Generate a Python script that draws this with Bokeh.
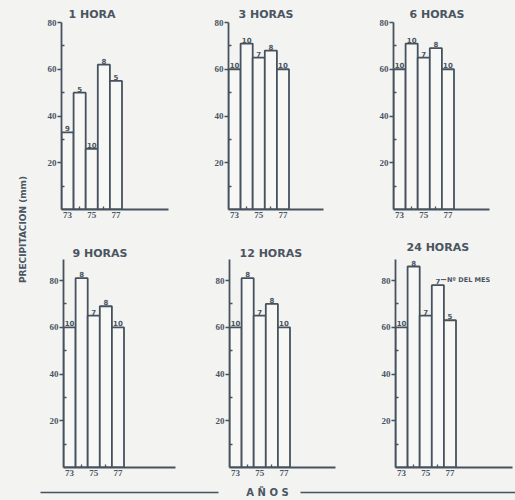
import math
from bokeh.plotting import figure
from bokeh.models import Range1d, FixedTicker, Label, Title
from bokeh.layouts import row, column
from bokeh.core.properties import value
from bokeh.embed import file_html
from bokeh.resources import INLINE

# ---------------- data ----------------
years = [73, 74, 75, 76, 77]
tick_years = [73, 75, 77]
minor_years = [74, 76]
y_ticks = [20, 40, 60, 80]
y_minor = [10, 30, 50, 70]

titles = ["1 HORA", "3 HORAS", "6 HORAS", "9 HORAS", "12 HORAS", "24 HORAS"]

precip_1h = [33, 50, 26, 62, 55]
precip_3h = [60, 71, 65, 68, 60]
precip_6h = [60, 71, 65, 69, 60]
precip_9h = [60, 81, 65, 69, 60]
precip_12h = [60, 81, 65, 70, 60]
precip_24h = [60, 86, 65, 78, 63]

month_1h = ["9", "5", "10", "8", "5"]
month_3h = ["10", "10", "7", "8", "10"]
month_6h = ["10", "10", "7", "8", "10"]
month_9h = ["10", "8", "7", "8", "10"]
month_12h = ["10", "8", "7", "8", "10"]
month_24h = ["10", "8", "7", "7", "5"]

y_label = "PRECIPITACION (mm)"
x_label = "A Ñ O S"
note_text = "Nº DEL MES"

# ---------------- style ----------------
BG = "#f3f3f1"
BAR_FILL = "#f7f7f5"
LINE = "#46525e"
TEXT = "#4a5561"
FONT = "DejaVu Sans"
NARROW = "Liberation Sans Narrow"
PX_PER_YEAR = 12.1

series = [precip_1h, precip_3h, precip_6h, precip_9h, precip_12h, precip_24h]
months = [month_1h, month_3h, month_6h, month_9h, month_12h, month_24h]

# layout geometry: (fig width, border left, border right, border top, y max, title offset, title standoff)
geom = [
    (155, 21, 27, 22, 80, 7, 3),
    (165, 33, 37, 22, 80, 10, 3),
    (155, 33, 26, 22, 80, 16, 3),
    (155, 23, 20, 29, 89, 9, 0),
    (165, 34, 25, 29, 89, 10, 0),
    (155, 35, 3, 29, 89, 11, 12),
]
TOP_H, TOP_BB = 230, 21
BOT_H, BOT_BB = 250, 13
BG_STYLE = {"background-color": BG}


def panel(i):
    w, bl, br, bt, ymax, toff, tstand = geom[i]
    h, bb = (TOP_H, TOP_BB) if i < 3 else (BOT_H, BOT_BB)
    fw = w - bl - br
    p = figure(width=w, height=h, output_backend="svg", toolbar_location=None,
               x_range=Range1d(72.5, 72.5 + fw / PX_PER_YEAR),
               y_range=Range1d(0, ymax),
               min_border_left=bl, min_border_right=br, min_border_top=bt, min_border_bottom=bb,
               styles=BG_STYLE)
    p.background_fill_color = BG
    p.border_fill_color = BG
    p.outline_line_color = None
    p.grid.visible = False

    p.vbar(x=years, top=series[i], width=1, bottom=0, fill_color=BAR_FILL,
           line_color=LINE, line_width=1.8)
    p.text(x=years, y=series[i], text=months[i], text_align="center", text_baseline="bottom",
           y_offset=-1, text_font=value(FONT), text_font_style="bold",
           text_font_size="7px", text_color=TEXT)

    for ax in (p.xaxis[0], p.yaxis[0]):
        ax.axis_line_color = LINE
        ax.axis_line_width = 1.8
        ax.major_tick_line_color = LINE
        ax.minor_tick_line_color = LINE
        ax.major_tick_line_width = 1.3
        ax.minor_tick_line_width = 1.3
        ax.major_label_text_font = NARROW
        ax.major_label_text_font_style = "bold"
        ax.major_label_text_font_size = "9px"
        ax.major_label_text_color = TEXT
    p.xaxis.ticker = FixedTicker(ticks=tick_years, minor_ticks=minor_years)
    p.xaxis.major_tick_in = 0
    p.xaxis.major_tick_out = 0
    p.xaxis.minor_tick_in = 3
    p.xaxis.minor_tick_out = 0
    p.xaxis.major_label_standoff = 2
    p.yaxis.ticker = FixedTicker(ticks=y_ticks, minor_ticks=y_minor)
    p.yaxis.major_tick_in = 0
    p.yaxis.major_tick_out = 4
    p.yaxis.minor_tick_in = 3
    p.yaxis.minor_tick_out = 0
    p.yaxis.major_label_standoff = 1

    p.title = Title(text=titles[i], align="left", offset=toff, standoff=tstand,
                    text_font=FONT, text_font_style="bold", text_font_size="11px",
                    text_color=TEXT)
    return p


panels = [panel(i) for i in range(6)]

# "Nº DEL MES" note on the 24 h panel (pointing at the 1976 month label)
p6 = panels[5]
note_y = precip_24h[3] + 2.4
p6.line(x=[years[3] + 0.25, years[3] + 0.7], y=[note_y, note_y], line_color=LINE, line_width=1)
p6.text(x=[years[3] + 0.75], y=[note_y], text=[note_text], text_align="left", text_baseline="middle",
        text_font=value(FONT), text_font_style="bold", text_font_size="6.5px", text_color=TEXT)

# left strip with the y label
strip_h = TOP_H + BOT_H
strip = figure(width=40, height=strip_h, output_backend="svg", toolbar_location=None,
               x_range=Range1d(0, 40), y_range=Range1d(0, strip_h),
               x_axis_type=None, y_axis_type=None, min_border=0, styles=BG_STYLE)
strip.background_fill_color = BG
strip.border_fill_color = BG
strip.outline_line_color = None
strip.grid.visible = False
strip.add_layout(Label(x=22, y=strip_h - 229, text=y_label, angle=math.pi / 2,
                       text_align="center", text_baseline="middle", text_font=FONT,
                       text_font_style="bold", text_font_size="9px", text_color=TEXT))

# footer with the x label
foot = figure(width=515, height=20, output_backend="svg", toolbar_location=None,
              x_range=Range1d(0, 515), y_range=Range1d(0, 20),
              x_axis_type=None, y_axis_type=None, min_border=0, styles=BG_STYLE)
foot.background_fill_color = BG
foot.border_fill_color = BG
foot.outline_line_color = None
foot.grid.visible = False
foot.line(x=[40, 218], y=[8, 8], line_color=LINE, line_width=1.5)
foot.line(x=[300, 515], y=[8, 8], line_color=LINE, line_width=1.5)
foot.add_layout(Label(x=267, y=8, text=x_label, text_align="center", text_baseline="middle",
                      text_font=FONT, text_font_style="bold", text_font_size="10px",
                      text_color=TEXT))

p = column(
    row(strip,
        column(row(*panels[:3], styles=BG_STYLE), row(*panels[3:], styles=BG_STYLE), styles=BG_STYLE),
        styles=BG_STYLE),
    foot, styles=BG_STYLE)

open("out.html", "w").write(file_html(p, INLINE))
